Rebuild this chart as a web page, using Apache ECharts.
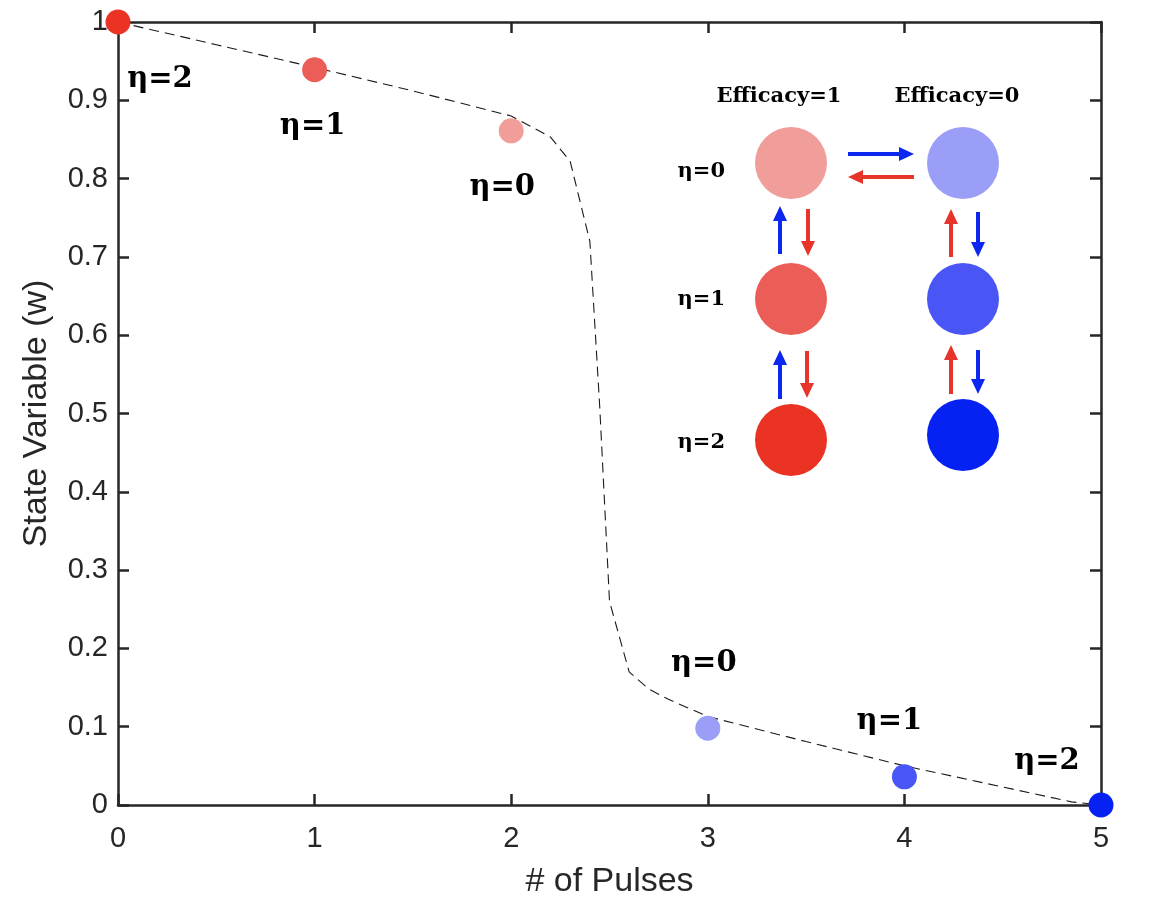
<!DOCTYPE html>
<html>
<head>
<meta charset="UTF-8">
<title>State Variable vs Pulses</title>
<script src="https://cdn.jsdelivr.net/npm/echarts@6/dist/echarts.min.js"></script>
<style>
  html, body { margin: 0; padding: 0; background: #fff; }
  #main { width: 1160px; height: 904px; }
</style>
</head>
<body>
<div id="main"></div>
<script type="text/javascript">
// data
var pulses = [0, 1, 2, 3, 4, 5];
var stateW = [1.0, 0.939, 0.861, 0.098, 0.036, 0.0];
var etaLabels = ['η=2', 'η=1', 'η=0', 'η=0', 'η=1', 'η=2'];
var dotColors = ['#EA3323', '#EB5E57', '#F19D9A', '#9A9EF6', '#4A55F5', '#0522F3'];

// dashed guide curve
var curveX = [0, 0.5, 1, 1.5, 2, 2.2, 2.3, 2.4, 2.45, 2.5, 2.6, 2.7, 2.8, 3, 3.5, 4, 4.5, 4.85, 5];
var curveY = [1.0, 0.971, 0.942, 0.912, 0.88, 0.853, 0.822, 0.72, 0.51, 0.26, 0.17, 0.148, 0.135, 0.113, 0.081, 0.05, 0.023, 0.004, 0.0];

var xTicks = [0, 1, 2, 3, 4, 5];
var yTicks = [0, 0.1, 0.2, 0.3, 0.4, 0.5, 0.6, 0.7, 0.8, 0.9, 1];

var axisColor = '#262626';
var sansFont = 'Liberation Sans, Arial, Helvetica, sans-serif';
var serifFont = 'DejaVu Serif, Liberation Serif, serif';

// label offsets (px) from each dot
var labelOffsets = [[42, 57], [-2, 57], [-9, 57], [-4, -65], [-15, -55], [-54, -44]];

var myChart = echarts.init(document.getElementById('main'));

var dotData = pulses.map(function (p, i) {
    return {
        value: [p, stateW[i]],
        itemStyle: { color: dotColors[i], opacity: 1 },
        label: {
            show: true,
            position: 'inside',
            offset: labelOffsets[i],
            formatter: etaLabels[i],
            color: '#000',
            fontFamily: serifFont,
            fontWeight: 'bold',
            fontSize: 29
        }
    };
});

var curveData = curveX.map(function (x, i) { return [x, curveY[i]]; });

// inset diagram helpers
function arrow(x1, y1, x2, y2, color) {
    var dx = x2 - x1, dy = y2 - y1;
    var len = Math.sqrt(dx * dx + dy * dy);
    var ux = dx / len, uy = dy / len;
    var hl = 15, hw = 7;
    var bx = x2 - ux * hl, by = y2 - uy * hl;
    return {
        type: 'group',
        children: [
            { type: 'line', shape: { x1: x1, y1: y1, x2: bx, y2: by }, style: { stroke: color, lineWidth: 4 } },
            { type: 'polygon', shape: { points: [[x2, y2], [bx - uy * hw, by + ux * hw], [bx + uy * hw, by - ux * hw]] }, style: { fill: color } }
        ]
    };
}
function dot(cx, cy, color) {
    return { type: 'circle', shape: { cx: cx, cy: cy, r: 36 }, style: { fill: color } };
}
function txt(x, y, s, size, align) {
    return {
        type: 'text', x: x, y: y,
        style: { text: s, fill: '#000', font: 'bold ' + size + 'px ' + serifFont, align: align, verticalAlign: 'middle' }
    };
}

var aBlue = '#0B27F0', aRed = '#E8352B';
var inset = [
    txt(779, 97, 'Efficacy=1', 21, 'center'),
    txt(957, 97, 'Efficacy=0', 21, 'center'),
    txt(725, 172, 'η=0', 21, 'right'),
    txt(725, 300, 'η=1', 21, 'right'),
    txt(725, 443, 'η=2', 21, 'right'),
    dot(791, 163, dotColors[2]),
    dot(791, 299, dotColors[1]),
    dot(791, 440, dotColors[0]),
    dot(963, 163, dotColors[3]),
    dot(963, 299, dotColors[4]),
    dot(963, 435, dotColors[5]),
    arrow(848, 154, 914, 154, aBlue),
    arrow(914, 177, 848, 177, aRed),
    arrow(780, 254, 780, 206, aBlue),
    arrow(808, 209, 808, 256, aRed),
    arrow(780, 399, 780, 350, aBlue),
    arrow(807, 351, 807, 398, aRed),
    arrow(951, 257, 951, 209, aRed),
    arrow(978, 212, 978, 257, aBlue),
    arrow(951, 394, 951, 345, aRed),
    arrow(978, 350, 978, 394, aBlue)
];

var boxAxis = {
    min: 0,
    axisLine: { show: true, onZero: false, lineStyle: { color: axisColor, width: 2.5 } },
    axisTick: { show: true, inside: true, length: 11, lineStyle: { color: axisColor, width: 2.5 } },
    axisLabel: { show: false }, splitLine: { show: false }
};

var option = {
    animation: false,
    grid: { left: 118, right: 59, top: 22, bottom: 98, containLabel: false },
    xAxis: [{
        type: 'value', min: 0, max: 5, interval: 1,
        name: '# of Pulses', nameLocation: 'middle', nameGap: 60,
        nameTextStyle: { color: axisColor, fontFamily: sansFont, fontSize: 34 },
        axisLine: { show: true, onZero: false, lineStyle: { color: axisColor, width: 2.5 } },
        axisTick: { show: true, inside: true, length: 11, lineStyle: { color: axisColor, width: 2.5 } },
        axisLabel: { color: axisColor, fontFamily: sansFont, fontSize: 29, margin: 19,
            formatter: function (v) { return xTicks.indexOf(v) >= 0 ? String(v) : ''; } },
        splitLine: { show: false }
    }, Object.assign({}, boxAxis, { type: 'value', max: 5, interval: 1, position: 'top' })],
    yAxis: [{
        type: 'value', min: 0, max: 1, interval: 0.1,
        name: 'State Variable (w)', nameLocation: 'middle', nameGap: 64,
        nameTextStyle: { color: axisColor, fontFamily: sansFont, fontSize: 34 },
        axisLine: { show: true, onZero: false, lineStyle: { color: axisColor, width: 2.5 } },
        axisTick: { show: true, inside: true, length: 11, lineStyle: { color: axisColor, width: 2.5 } },
        axisLabel: { color: axisColor, fontFamily: sansFont, fontSize: 29, margin: 10,
            formatter: function (v) {
                var r = Math.round(v * 10) / 10;
                return yTicks.indexOf(r) >= 0 ? String(r) : '';
            } },
        splitLine: { show: false }
    }, Object.assign({}, boxAxis, { type: 'value', max: 1, interval: 0.1, position: 'right' })],
    series: [{
        type: 'line',
        data: curveData,
        showSymbol: false,
        symbol: 'none',
        smooth: false,
        lineStyle: { color: '#1a1a1a', width: 1.1, type: [10, 6] },
        z: 2,
        silent: true
    }, {
        type: 'scatter',
        data: dotData,
        symbolSize: 25,
        clip: false,
        z: 5
    }],
    graphic: inset
};

myChart.setOption(option);
</script>
</body>
</html>
